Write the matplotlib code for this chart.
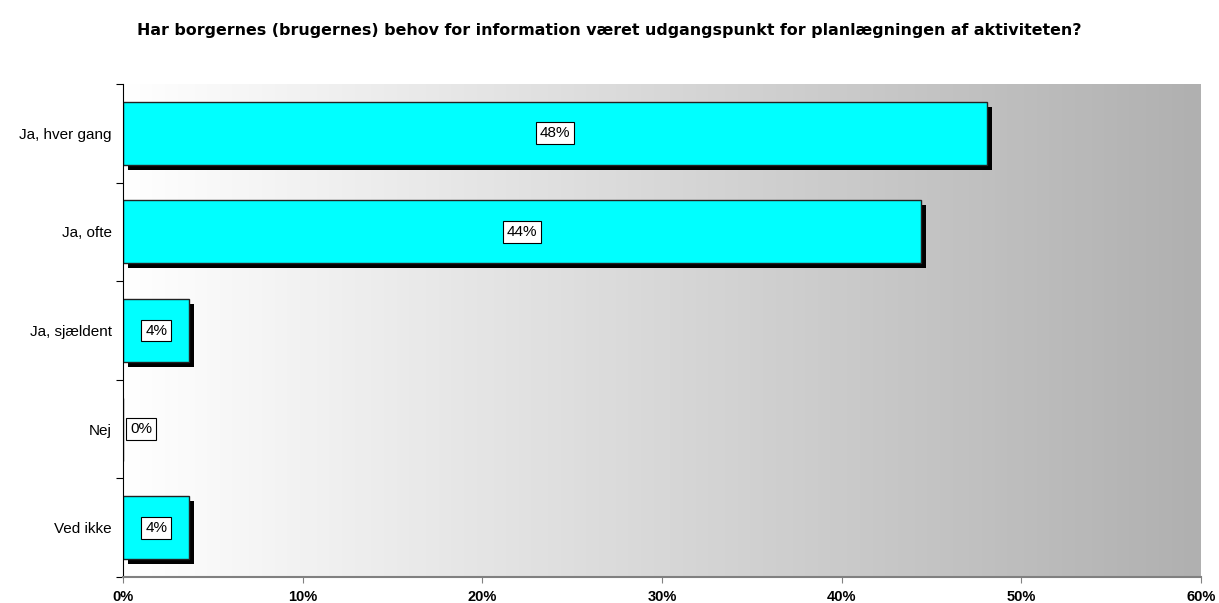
import numpy as np
import matplotlib.pyplot as plt
from matplotlib.colors import LinearSegmentedColormap

categories = ['Ja, hver gang', 'Ja, ofte', 'Ja, sjældent', 'Nej', 'Ved ikke']
values = [48.1, 44.4, 3.7, 0.0, 3.7]
labels = ['48%', '44%', '4%', '0%', '4%']
xticks = [0, 10, 20, 30, 40, 50, 60]

fig = plt.figure(figsize=(12.19, 6.03), dpi=100)
ax = fig.add_axes([0.1009, 0.0431, 0.8843, 0.8176])
ax.set_xlim(0, 60)
ax.set_ylim(len(categories) - 0.5, -0.5)

# horizontal gradient background
cmap = LinearSegmentedColormap.from_list('bg', ['#ffffff', '#b0b0b0'])
grad = np.linspace(0, 1, 256).reshape(1, -1)
ax.imshow(grad, cmap=cmap, aspect='auto', extent=[0, 60, len(categories) - 0.5, -0.5],
          zorder=0)

y = np.arange(len(categories))
h = 0.64
# shadow offset in data units (~5 px)
dx = 60 / 1078 * 5
dy = 5 / 493 * 5
ax.barh(y + dy, values, height=h, left=dx, color='black', zorder=1)
ax.barh(y, values, height=h, color='#00ffff', edgecolor='#222222', linewidth=1, zorder=2)

for yi, v, lab in zip(y, values, labels):
    xc = v / 2 if v > 0 else 1.0
    ax.text(xc, yi, lab, ha='center', va='center', fontsize=11, family='Liberation Sans',
            bbox=dict(boxstyle='square,pad=0.25', fc='white', ec='black', lw=0.8), zorder=3)

ax.set_yticks(np.arange(-0.5, len(categories), 1))
ax.set_yticklabels([])
ax.set_yticks(y, minor=True)
ax.set_yticklabels(categories, minor=True, fontsize=11, family='Liberation Sans')
ax.tick_params(axis='y', which='minor', length=0, pad=8)
ax.tick_params(axis='y', which='major', length=5, direction='out')

ax.set_xticks(xticks)
ax.set_xticklabels([f'{t}%' for t in xticks], fontsize=10.5, fontweight='bold',
                   family='Liberation Sans')
ax.tick_params(axis='x', length=4, direction='out', color='#808080', pad=5)

for s in ['top', 'right']:
    ax.spines[s].set_visible(False)
ax.spines['left'].set_color('black')
ax.spines['bottom'].set_color('#808080')
ax.spines['bottom'].set_linewidth(1.5)

fig.text(0.5, 0.949, 'Har borgernes (brugernes) behov for information været udgangspunkt for planlægningen af aktiviteten?',
         ha='center', va='center', fontsize=11.4, fontweight='bold', family='DejaVu Sans')

fig.savefig('out.png', dpi=100)
